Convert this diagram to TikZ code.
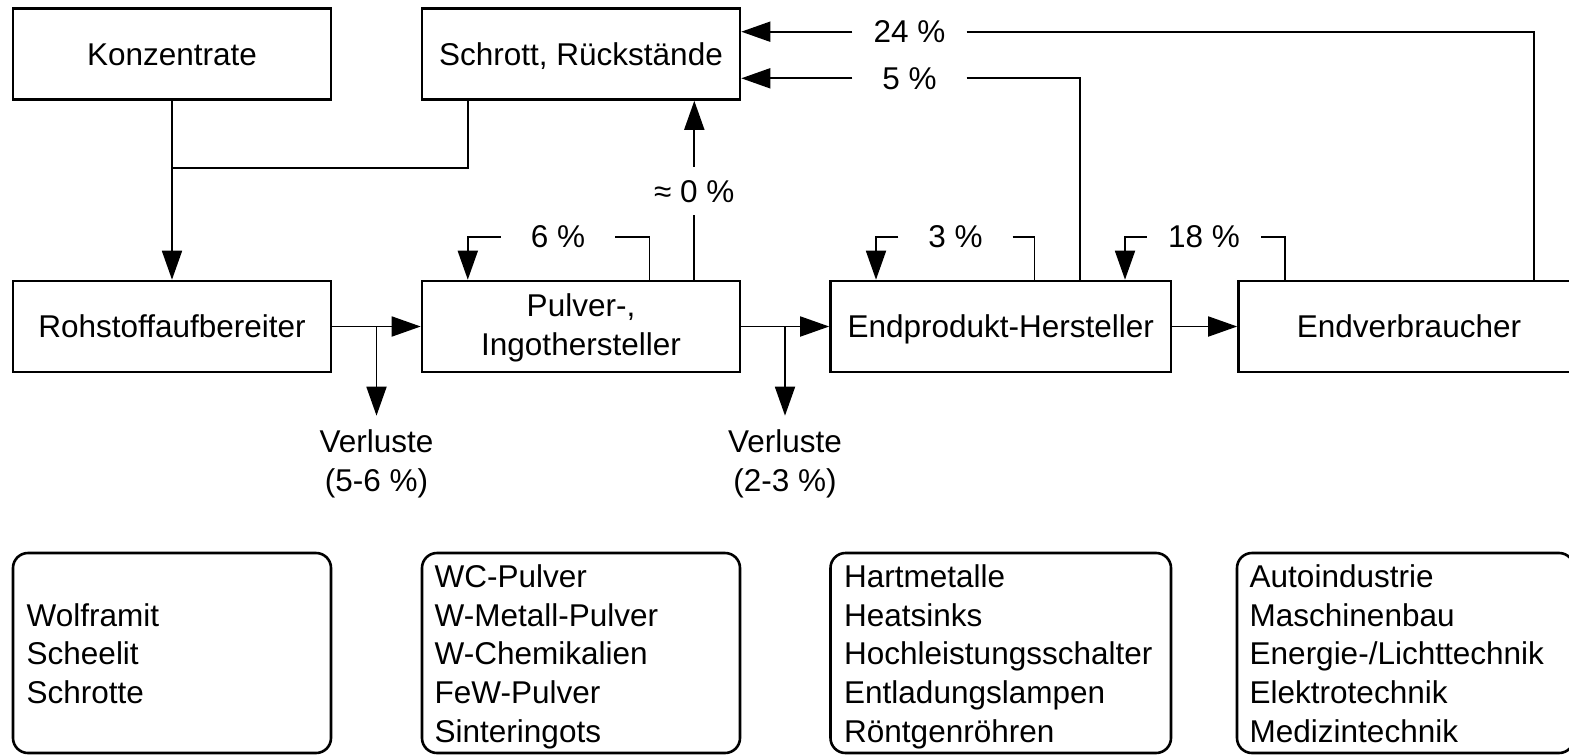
\documentclass[tikz,border=0pt]{standalone}
\usepackage{fontspec}
\setmainfont{Liberation Sans}
\usetikzlibrary{arrows.meta}
\tikzset{
  box/.style={draw, line width=2.6pt, minimum height=91pt, inner sep=0pt, text height=22.5pt, text depth=0pt},
  mbox/.style={draw, line width=2.6pt, minimum height=91pt, inner sep=0pt, text height=22.5pt, text depth=42pt},
  rbox/.style={draw, line width=2.6pt, rounded corners=15pt, inner sep=0pt, minimum height=200pt},
  conn/.style={line width=1.8pt},
  arr/.style={conn, -{Triangle[length=29pt,width=20pt]}},
  lab/.style={minimum width=114pt, minimum height=48pt, inner sep=0pt, text height=22.5pt, text depth=0pt},
  lst/.style={anchor=base west, inner sep=0pt},
  loss/.style={anchor=base, inner xsep=0pt, inner ysep=14pt}
}
\begin{document}
\begin{tikzpicture}[x=1pt, y=-1pt, font=\fontsize{31.5}{38.7}\selectfont]
\useasboundingbox (0,0) rectangle (1569,755);
\clip (0,0) rectangle (1569,755);
% main boxes
\node[box, minimum width=318pt] (K) at (172,54) {Konzentrate};
\node[box, minimum width=318pt] (S) at (581,54) {Schrott, Rückstände};
\node[box, minimum width=318pt] (R) at (172,326.5) {Rohstoffaufbereiter};
\node[mbox, minimum width=318pt] (P) at (581,326.5) {\vtop{\baselineskip=39pt\halign{\hfil#\hfil\cr Pulver-,\cr Ingothersteller\cr}}};
\node[box, minimum width=340.5pt] (E) at (1000.75,326.5) {Endprodukt-Hersteller};
\node[box, minimum width=341pt] (V) at (1409,326.5) {Endverbraucher};
% bottom boxes
\node[rbox, minimum width=318pt] (B1) at (172,653) {};
\node[rbox, minimum width=318pt] (B2) at (581,653) {};
\node[rbox, minimum width=340.5pt] (B3) at (1000.75,653) {};
\node[rbox, minimum width=337pt] (B4) at (1405.5,653) {};
\node[lst] (T1) at (26.5,626) {\vtop{\baselineskip=38.7pt\hbox{Wolframit}\hbox{Scheelit}\hbox{Schrotte}}};
\node[lst] (T2) at (434.5,587.3) {\vtop{\baselineskip=38.7pt\hbox{WC-Pulver}\hbox{W-Metall-Pulver}\hbox{W-Chemikalien}\hbox{FeW-Pulver}\hbox{Sinteringots}}};
\node[lst] (T3) at (844,587.3) {\vtop{\baselineskip=38.7pt\hbox{Hartmetalle}\hbox{Heatsinks}\hbox{Hochleistungsschalter}\hbox{Entladungslampen}\hbox{Röntgenröhren}}};
\node[lst] (T4) at (1249.5,587.3) {\vtop{\baselineskip=38.7pt\hbox{Autoindustrie}\hbox{Maschinenbau}\hbox{Energie-/Lichttechnik}\hbox{Elektrotechnik}\hbox{Medizintechnik}}};
% losses
\node[loss] (L1) at (376.5,452.7) {\vtop{\baselineskip=39pt\halign{\hfil#\hfil\cr Verluste\cr (5-6 \%)\cr}}};
\node[loss] (L2) at (785,452.7) {\vtop{\baselineskip=39pt\halign{\hfil#\hfil\cr Verluste\cr (2-3 \%)\cr}}};
% labels
\node[lab] (Z) at (694.3,190.8) {≈ 0 \%};
\node[lab] (A24) at (909.5,31.7) {24 \%};
\node[lab] (A5) at (909.5,78.3) {5 \%};
\node[lab] (A6) at (558,236.7) {6 \%};
\node[lab] (A3) at (955.5,236.7) {3 \%};
\node[lab] (A18) at (1204,236.7) {18 \%};
\coordinate (J) at (172,168);
% connectors
\draw[arr] (K.south) -- (R.north);
\draw[conn] ([xshift=-113pt]S.south) |- (J);
\draw[arr] (R.east) -- (P.west);
\draw[arr] (R.east -| L1.north) -- (L1.north);
\draw[arr] (P.east) -- (E.west);
\draw[arr] (P.east -| L2.north) -- (L2.north);
\draw[arr] (E.east) -- (V.west);
\draw[conn] (P.north -| Z.south) -- (Z.south);
\draw[arr] (Z.north) -- (S.south -| Z.north);
\draw[arr] (A24.west) -- (S.east |- A24.west);
\draw[conn] (A24.east) -| ([xshift=125pt]V.north);
\draw[arr] (A5.west) -- (S.east |- A5.west);
\draw[conn] (A5.east) -| ([xshift=79.25pt]E.north);
\draw[arr] (A6.west) -| ([xshift=-113.2pt]P.north);
\draw[conn] (A6.east) -| ([xshift=68.5pt]P.north);
\draw[arr] (A3.west) -| ([xshift=-124.75pt]E.north);
\draw[conn] (A3.east) -| ([xshift=33.75pt]E.north);
\draw[arr] (A18.west) -| ([xshift=124.25pt]E.north);
\draw[conn] (A18.east) -| ([xshift=-124.2pt]V.north);
\end{tikzpicture}
\end{document}
